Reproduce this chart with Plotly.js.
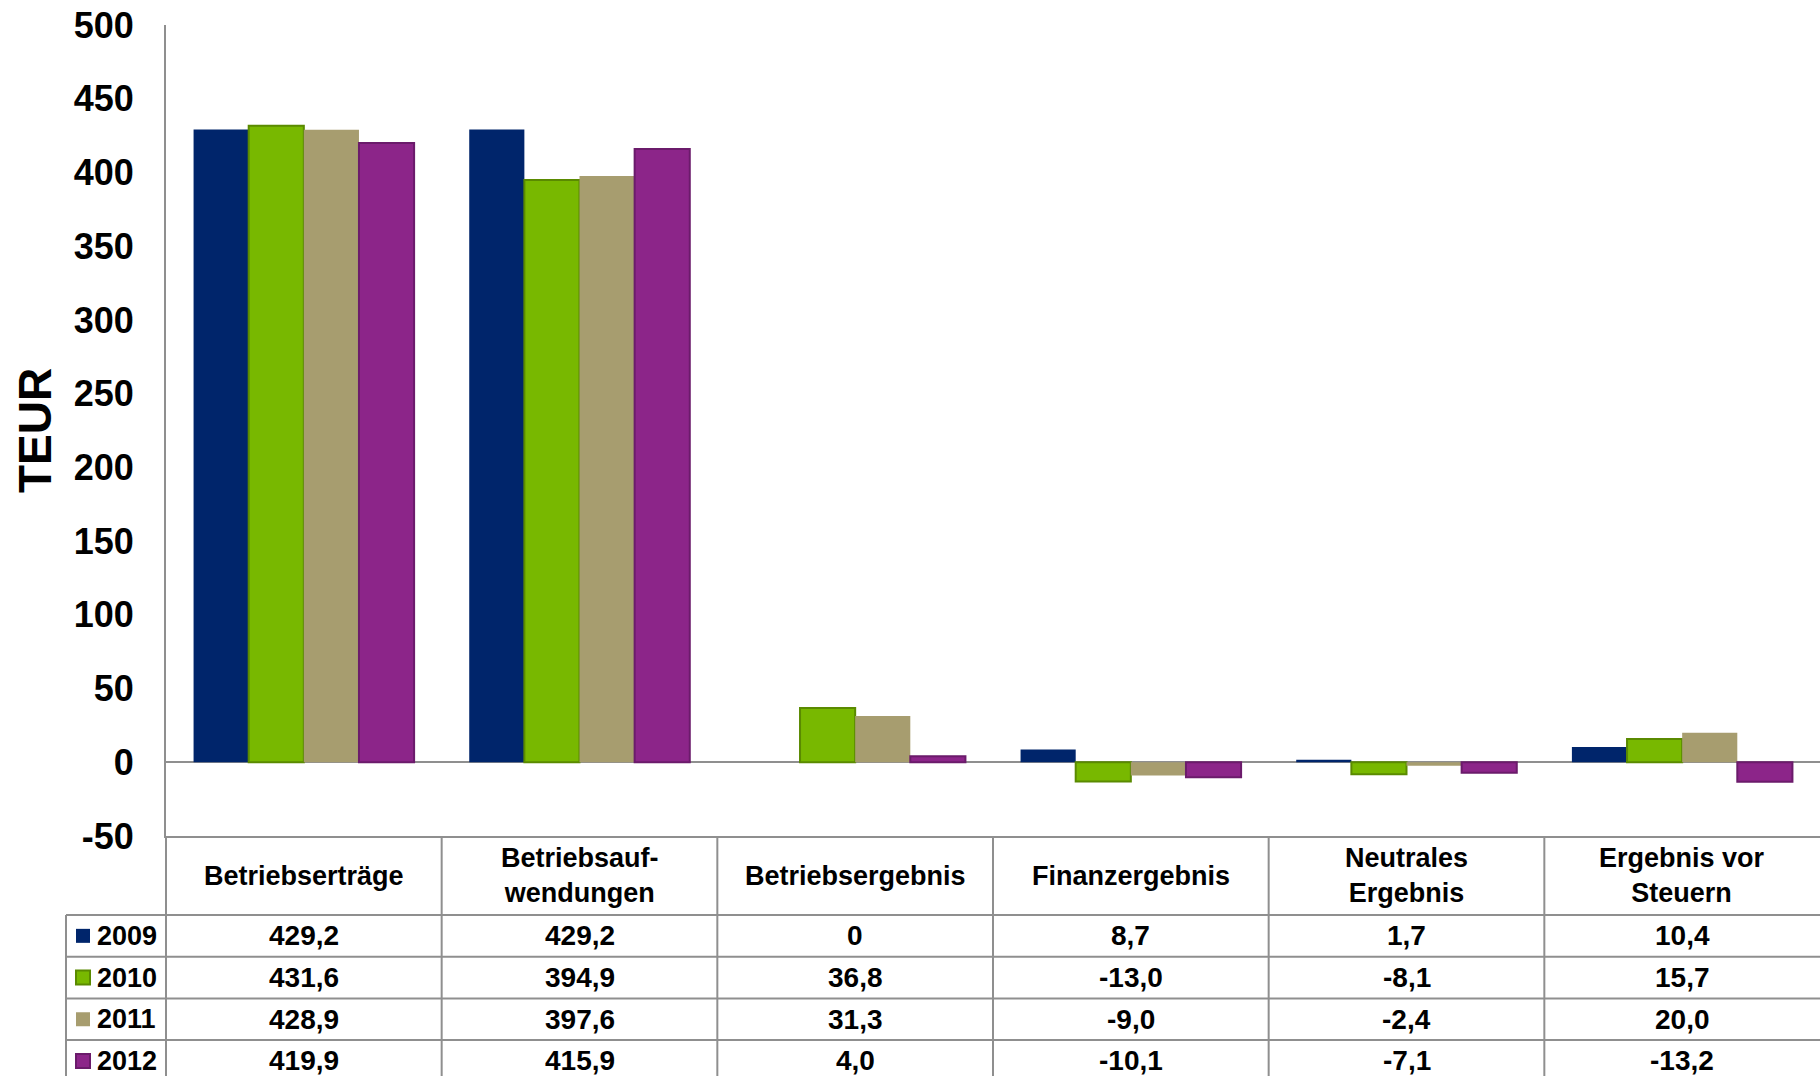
<!DOCTYPE html>
<html>
<head>
<meta charset="utf-8">
<script src="https://cdn.plot.ly/plotly-3.0.1.min.js"></script>
<style>html,body{margin:0;padding:0;background:#fff;}#chart{width:1820px;height:1076px;}</style>
</head>
<body>
<div id="chart"></div>
<script>
// ---- data ----
const categories = ["Betriebserträge", "Betriebsauf-<br>wendungen", "Betriebsergebnis", "Finanzergebnis", "Neutrales<br>Ergebnis", "Ergebnis vor<br>Steuern"];
const years = ["2009", "2010", "2011", "2012"];
const v2009 = [429.2, 429.2, 0, 8.7, 1.7, 10.4];
const v2010 = [431.6, 394.9, 36.8, -13.0, -8.1, 15.7];
const v2011 = [428.9, 397.6, 31.3, -9.0, -2.4, 20.0];
const v2012 = [419.9, 415.9, 4.0, -10.1, -7.1, -13.2];
const yTicks = [-50, 0, 50, 100, 150, 200, 250, 300, 350, 400, 450, 500];

// ---- styles ----
const series = [v2009, v2010, v2011, v2012];
const fillColors = ["#00256B", "#78B800", "#A79D6F", "#8C2589"];
const lineColors = ["#00256B", "#5A8A00", "#A79D6F", "#6B1B6B"];
const lineWidths = [0, 2, 0, 2];
const FONT = "Liberation Sans, Arial, sans-serif";
const GRID = "#8f8f8f";

// layout geometry (pixels)
const W = 1820, H = 1076, L = 166, T = 25, B = 240;
const plotW = W - L, plotH = H - T - B;
const px2x = p => (p - L) / plotW;
const px2y = p => (H - B - p) / plotH;

const tableTop = 836, headerBottom = 915, rowH = 41.7;
const rowLines = [headerBottom, headerBottom + rowH, headerBottom + 2 * rowH, headerBottom + 3 * rowH];
const legendLeft = 66;
const colW = plotW / categories.length;

function fmt(v) {
  if (v === 0) return "0";
  return v.toFixed(1).replace(".", ",");
}

const traces = series.map((vals, i) => ({
  type: "bar",
  name: years[i],
  x: categories,
  y: vals,
  marker: { color: fillColors[i], line: { color: lineColors[i], width: lineWidths[i] } },
  hoverinfo: "x+y+name"
}));

const shapes = [];
const annotations = [];
const bottomY = px2y(H + 20);

// vertical line continuing y axis through table
shapes.push({ type: "line", xref: "paper", yref: "paper", x0: 0, x1: 0, y0: 0, y1: bottomY, line: { color: GRID, width: 2 } });
// column separators
for (let c = 1; c < categories.length; c++) {
  const xp = px2x(L + c * colW);
  shapes.push({ type: "line", xref: "paper", yref: "paper", x0: xp, x1: xp, y0: 0, y1: bottomY, line: { color: GRID, width: 2 } });
}
// legend column left border
shapes.push({ type: "line", xref: "paper", yref: "paper", x0: px2x(legendLeft), x1: px2x(legendLeft), y0: px2y(headerBottom), y1: bottomY, line: { color: GRID, width: 2 } });
// horizontal row lines
rowLines.forEach(r => {
  shapes.push({ type: "line", xref: "paper", yref: "paper", x0: px2x(legendLeft), x1: 1, y0: px2y(r), y1: px2y(r), line: { color: GRID, width: 2 } });
});

// header labels
categories.forEach(cat => {
  annotations.push({
    xref: "x", yref: "paper", x: cat, y: px2y((tableTop + headerBottom) / 2),
    text: cat, showarrow: false, xanchor: "center", yanchor: "middle",
    font: { family: FONT, size: 27, color: "#000", weight: "bold" }
  });
});

// data rows + legend cells
series.forEach((vals, i) => {
  const rc = headerBottom + rowH * i + rowH / 2;
  vals.forEach((v, j) => {
    annotations.push({
      xref: "x", yref: "paper", x: categories[j], y: px2y(rc),
      text: fmt(v), showarrow: false, xanchor: "center", yanchor: "middle",
      font: { family: FONT, size: 28, color: "#000", weight: "bold" }
    });
  });
  // legend square
  shapes.push({
    type: "rect", xref: "paper", yref: "paper",
    x0: px2x(76), x1: px2x(90), y0: px2y(rc - 7), y1: px2y(rc + 7),
    fillcolor: fillColors[i], line: { color: lineColors[i], width: lineWidths[i] ? 2 : 0 }
  });
  annotations.push({
    xref: "paper", yref: "paper", x: px2x(95), y: px2y(rc),
    text: years[i], showarrow: false, xanchor: "left", yanchor: "middle",
    font: { family: FONT, size: 27, color: "#000", weight: "bold" }
  });
});

const layout = {
  width: W, height: H,
  margin: { l: L, r: 0, t: T, b: B, pad: 0 },
  paper_bgcolor: "#fff", plot_bgcolor: "#fff",
  barmode: "group", bargap: 0.2, bargroupgap: 0,
  showlegend: false,
  xaxis: {
    type: "category", showticklabels: false, ticks: "", showgrid: false,
    showline: true, linecolor: GRID, linewidth: 2, zeroline: false, fixedrange: true
  },
  yaxis: {
    range: [-50, 500], tickvals: yTicks, ticktext: yTicks.map(String),
    showgrid: false, zeroline: true, zerolinecolor: GRID, zerolinewidth: 2,
    showline: true, linecolor: GRID, linewidth: 2, ticks: "", ticklabelstandoff: 23,
    tickfont: { family: FONT, size: 36, color: "#000", weight: "bold" },
    title: { text: "TEUR", standoff: 8, font: { family: FONT, size: 46, color: "#000", weight: "bold" } },
    fixedrange: true
  },
  shapes: shapes,
  annotations: annotations
};

Plotly.newPlot("chart", traces, layout, { displayModeBar: false, staticPlot: true });
</script>
</body>
</html>
